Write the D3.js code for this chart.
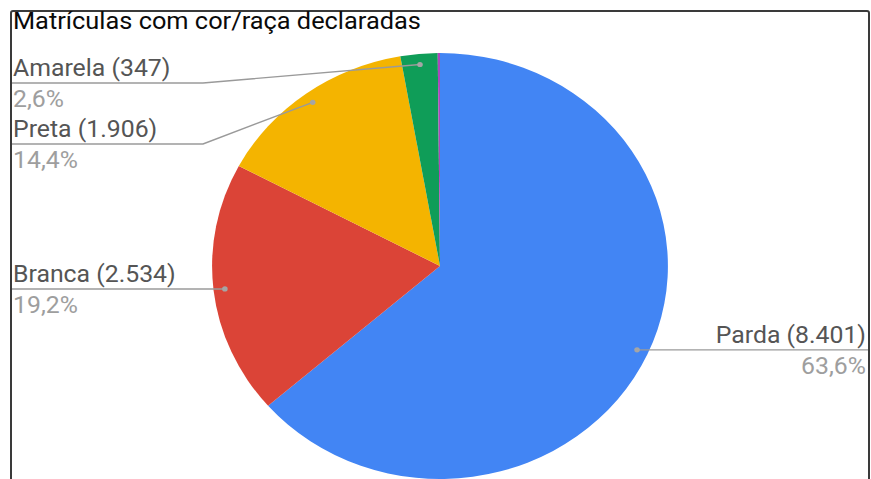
<!DOCTYPE html>
<html lang="pt-BR">
<head>
<meta charset="utf-8">
<script src="https://cdn.jsdelivr.net/npm/d3@7"></script>
<style>
  html, body { margin: 0; padding: 0; background: #fff; }
  svg { display: block; }
  text { font-family: Roboto, "Noto Sans", sans-serif; }
</style>
</head>
<body>
<svg id="chart" width="871" height="479"></svg>
<script>
// Matrículas por cor/raça declarada
const title = "Matrículas com cor/raça declaradas";
const categories = ["Parda", "Branca", "Preta", "Amarela", "Indígena"];
const values = [8401, 2534, 1906, 347, 21];
const colors = ["#4285F4", "#DB4437", "#F4B400", "#0F9D58", "#AB47BC"];

// Label placement for each labelled slice (screen px): side, leader line y, optional bend x
const labelLayout = [
  { side: "right", y: 350 },
  { side: "left", y: 290 },
  { side: "left", y: 144, bend: 203 },
  { side: "left", y: 83, bend: 203 },
  null
];

const W = 871, H = 479;
const sx = 1.07;              // horizontal stretch of the whole drawing
const cx = 440, cy = 266;     // pie centre (screen px)
const R = 213;                // pie radius (vertical, unstretched)

const ptBR = d3.formatLocale({ decimal: ",", thousands: ".", grouping: [3], currency: ["R$", ""] });
const fmtInt = ptBR.format(",d");
const fmtPct = ptBR.format(".1f");

const svg = d3.select("#chart");

// frame
svg.append("rect")
  .attr("x", 11).attr("y", 11)
  .attr("width", 858).attr("height", 520)
  .attr("rx", 2)
  .attr("fill", "none")
  .attr("stroke", "#3a3a3a")
  .attr("stroke-width", 2);

const g = svg.append("g").attr("transform", `scale(${sx},1)`);
const X = x => x / sx;   // screen x -> local x

g.append("text")
  .attr("x", X(13)).attr("y", 29.5)
  .attr("font-size", 23.7)
  .attr("fill", "#0a0a0a")
  .text(title);

const total = d3.sum(values);
const pie = d3.pie().sort(null).value(d => d)(values);
const arc = d3.arc().innerRadius(0).outerRadius(R);

const pg = g.append("g").attr("transform", `translate(${X(cx)},${cy})`);
pg.selectAll("path")
  .data(pie)
  .join("path")
  .attr("d", arc)
  .attr("fill", (d, i) => colors[i]);

// leader lines, dots and labels
pie.forEach((d, i) => {
  const L = labelLayout[i];
  if (!L) return;
  const mid = (d.startAngle + d.endAngle) / 2;
  const dx = X(cx) + Math.sin(mid) * R * 0.95;
  const dy = cy - Math.cos(mid) * R * 0.95;
  const pts = [[dx, dy]];
  if (L.bend !== undefined) pts.push([X(L.bend), L.y]);
  const endX = L.side === "left" ? X(12) : X(868);
  if (L.bend === undefined) pts.push([endX, dy]); else pts.push([endX, L.y]);
  const lineY = L.bend === undefined ? dy : L.y;

  g.append("path")
    .attr("d", d3.line()(pts))
    .attr("fill", "none")
    .attr("stroke", "#9a9a9a")
    .attr("stroke-width", 1.4);
  g.append("circle")
    .attr("cx", dx).attr("cy", dy).attr("r", 2.6)
    .attr("fill", "#a5a5a5");

  const anchor = L.side === "left" ? "start" : "end";
  const tx = L.side === "left" ? X(13) : X(866);
  g.append("text")
    .attr("x", tx).attr("y", lineY - 7)
    .attr("text-anchor", anchor)
    .attr("font-size", 23.2)
    .attr("fill", "#555")
    .text(`${categories[i]} (${fmtInt(values[i])})`);
  g.append("text")
    .attr("x", tx).attr("y", lineY + 24)
    .attr("text-anchor", anchor)
    .attr("font-size", 23.2)
    .attr("fill", "#9e9e9e")
    .text(`${fmtPct(values[i] / total * 100)}%`);
});
</script>
</body>
</html>
